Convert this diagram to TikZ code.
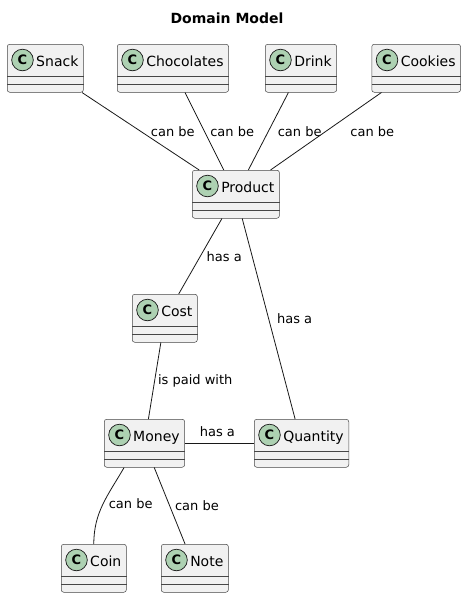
\documentclass[tikz,border=0pt]{standalone}
\usepackage{fontspec}
\setmainfont{DejaVu Sans}
\definecolor{boxgray}{HTML}{F1F1F1}
\definecolor{linegray}{HTML}{181818}
\definecolor{badgegreen}{HTML}{ADD1B2}

% one class box: name, x, y (top left corner), text
\newcommand{\umlclass}[4]{%
  \node[cls] (#1) at (#2,#3) {\hspace*{24pt}#4};
  \draw[sepline] ([yshift=-32.5pt]#1.north west) -- ([yshift=-32.5pt]#1.north east)
                 ([yshift=-40pt]#1.north west) -- ([yshift=-40pt]#1.north east);
  \node[badge] at ([xshift=15.5pt,yshift=-16pt]#1.north west) {C};
}

\begin{document}
\begin{tikzpicture}[x=1pt, y=1pt]
  \tikzset{cls/.style={draw=linegray!80, line width=0.5pt, fill=boxgray, rounded corners=2.5pt,
      anchor=north west, inner xsep=5pt, inner ysep=0pt, text height=22pt, text depth=26pt,
      font=\fontsize{14}{16}\selectfont},
    sepline/.style={draw=linegray!80, line width=0.5pt},
    badge/.style={circle, fill=badgegreen, draw=linegray, line width=0.7pt, inner sep=0pt,
      minimum size=21.6pt, font=\fontsize{13}{13}\bfseries\selectfont},
    rel/.style={draw=linegray, line width=0.8pt},
    lbl/.style={font=\fontsize{13}{15}\selectfont, inner sep=0pt, anchor=west}}
  \useasboundingbox (0,0) rectangle (466,-598);

  \node[font=\fontsize{14}{16}\bfseries\selectfont] (title) at (227,-18) {Domain Model};

  \umlclass{snack}{7}{-44}{Snack}
  \umlclass{chocolates}{117}{-44}{Chocolates}
  \umlclass{drink}{265}{-44}{Drink}
  \umlclass{cookies}{371.5}{-44}{Cookies}
  \umlclass{product}{192}{-170}{Product}
  \umlclass{cost}{132}{-294}{Cost}
  \umlclass{money}{104}{-419}{Money}
  \umlclass{quantity}{254}{-419}{Quantity}
  \umlclass{coin}{61}{-544}{Coin}
  \umlclass{note}{161}{-544}{Note}

  \draw[rel] (snack) -- node[lbl, pos=0.5, xshift=10pt] {can be} (product);
  \draw[rel] (chocolates) -- node[lbl, pos=0.5, xshift=5.5pt] {can be} (product);
  \draw[rel] (drink) -- node[lbl, pos=0.5, xshift=9pt] {can be} (product);
  \draw[rel] (cookies) -- node[lbl, pos=0.5, xshift=24pt] {can be} (product);
  \draw[rel] (product) -- node[lbl, pos=0.5, xshift=6pt] {has a} (cost);
  \draw[rel] (product) -- node[lbl, pos=0.5, xshift=8pt] {has a} (quantity);
  \draw[rel] (cost) -- node[lbl, pos=0.5, xshift=3pt] {is paid with} (money);
  \draw[rel] (money) -- node[lbl, pos=0.47, anchor=south, yshift=6pt] {has a} (quantity);
  \draw[rel] (money.-130) to[out=-120, in=90] node[lbl, pos=0.5, xshift=5.5pt] {can be} (coin.north);
  \draw[rel] (money) -- node[lbl, pos=0.5, xshift=5pt] {can be} (note);
\end{tikzpicture}
\end{document}
